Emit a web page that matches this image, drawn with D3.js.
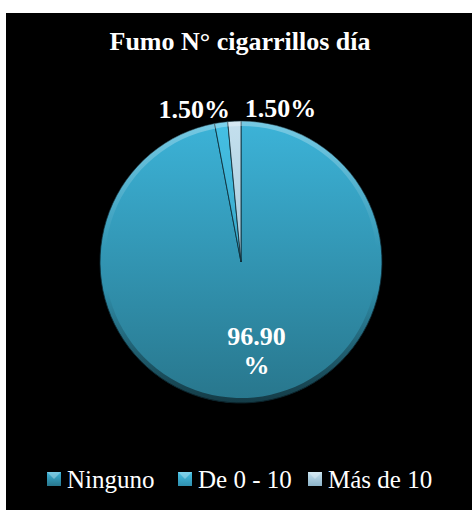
<!DOCTYPE html>
<html>
<head>
<meta charset="utf-8">
<script src="https://cdn.jsdelivr.net/npm/d3@7"></script>
<style>
  html, body { margin: 0; padding: 0; background: #ffffff; }
  svg { display: block; }
</style>
</head>
<body>
<svg id="chart" width="472" height="510"></svg>
<script>
// Smoking survey: cigarettes per day
const chartTitle = "Fumo N° cigarrillos día";
const categories = ["Ninguno", "De 0 - 10", "Más de 10"];
const shares = [96.9, 1.5, 1.5];
const valueLabels = ["96.90\n%", "1.50%", "1.50%"];

// per-slice colour stops (light top, dark bottom)
const lightColors = ["#3cb3d8", "#45c0e4", "#c4e0ee"];
const darkColors = ["#28768c", "#2f8fae", "#8cb3c8"];

const FONT = "'Liberation Serif', Tinos, 'Times New Roman', Times, 'DejaVu Serif', serif";

const W = 472, H = 510;
const svg = d3.select("#chart");

// black chart area
svg.append("rect")
  .attr("x", 6).attr("y", 13)
  .attr("width", W - 6).attr("height", H - 13)
  .attr("fill", "#000000");

const defs = svg.append("defs");
categories.forEach((c, i) => {
  const g = defs.append("linearGradient")
    .attr("id", "grad" + i)
    .attr("gradientUnits", "userSpaceOnUse")
    .attr("x1", 0).attr("y1", -141).attr("x2", 0).attr("y2", 141);
  g.append("stop").attr("offset", "0%").attr("stop-color", lightColors[i]);
  g.append("stop").attr("offset", "100%").attr("stop-color", darkColors[i]);

  const m = defs.append("linearGradient")
    .attr("id", "mgrad" + i)
    .attr("x1", 0).attr("y1", 0).attr("x2", 0).attr("y2", 1);
  m.append("stop").attr("offset", "0%").attr("stop-color", lightColors[i]);
  m.append("stop").attr("offset", "100%").attr("stop-color", darkColors[i]);
});

// rim shading: light at the top edge, dark at the bottom edge
const rim = defs.append("linearGradient")
  .attr("id", "rim")
  .attr("gradientUnits", "userSpaceOnUse")
  .attr("x1", 0).attr("y1", -141).attr("x2", 0).attr("y2", 141);
rim.append("stop").attr("offset", "0%").attr("stop-color", "#ffffff").attr("stop-opacity", 0.3);
rim.append("stop").attr("offset", "45%").attr("stop-color", "#ffffff").attr("stop-opacity", 0.0);
rim.append("stop").attr("offset", "60%").attr("stop-color", "#000000").attr("stop-opacity", 0.0);
rim.append("stop").attr("offset", "100%").attr("stop-color", "#000000").attr("stop-opacity", 0.5);

// title
svg.append("text")
  .attr("x", 240).attr("y", 50)
  .attr("text-anchor", "middle")
  .attr("font-family", FONT)
  .attr("font-size", 26)
  .attr("font-weight", "bold")
  .attr("fill", "#ffffff")
  .text(chartTitle);

const cx = 241, cy = 262, R = 141;
const g = svg.append("g").attr("transform", `translate(${cx},${cy})`);

const pie = d3.pie().sort(null).value(d => d)(shares);
const arc = d3.arc().innerRadius(0).outerRadius(R);
const rimArc = d3.arc().innerRadius(R - 5).outerRadius(R);

g.selectAll("path.slice")
  .data(pie)
  .join("path")
  .attr("class", "slice")
  .attr("d", arc)
  .attr("fill", (d, i) => `url(#grad${i})`)
  .attr("stroke", "#0c2a33")
  .attr("stroke-width", 0.8);

g.selectAll("path.rim")
  .data(pie)
  .join("path")
  .attr("class", "rim")
  .attr("d", rimArc)
  .attr("fill", "url(#rim)");

// value labels
const innerLabelArc = d3.arc().innerRadius(90).outerRadius(90);
const outerLabelArc = d3.arc().innerRadius(R + 20).outerRadius(R + 20);
const outerShift = [0, -24, 47];

pie.forEach((d, i) => {
  if (i === 0) {
    const [x, y] = innerLabelArc.centroid(d);
    const lines = valueLabels[i].split("\n");
    const t = g.append("text")
      .attr("text-anchor", "middle")
      .attr("font-family", FONT)
      .attr("font-size", 26)
      .attr("font-weight", "bold")
      .attr("fill", "#ffffff");
    lines.forEach((ln, k) => {
      t.append("tspan")
        .attr("x", x + 7)
        .attr("y", y - 7 + k * 29)
        .text(ln);
    });
  } else {
    const [x, y] = outerLabelArc.centroid(d);
    g.append("text")
      .attr("x", x + outerShift[i])
      .attr("y", y)
      .attr("dy", "0.6em")
      .attr("text-anchor", "middle")
      .attr("font-family", FONT)
      .attr("font-size", 26)
      .attr("font-weight", "bold")
      .attr("fill", "#ffffff")
      .text(valueLabels[i]);
  }
});

// legend
const legendX = [47, 178, 308];
const legend = svg.append("g");
categories.forEach((c, i) => {
  legend.append("rect")
    .attr("x", legendX[i]).attr("y", 472)
    .attr("width", 14).attr("height", 14)
    .attr("fill", `url(#mgrad${i})`);
  legend.append("path")
    .attr("d", `M${legendX[i]},472 L${legendX[i] + 7},479 L${legendX[i] + 14},472 Z`)
    .attr("fill", "#ffffff").attr("fill-opacity", 0.3);
  legend.append("text")
    .attr("x", legendX[i] + 20).attr("y", 488)
    .attr("font-family", FONT)
    .attr("font-size", 25)
    .attr("fill", "#ffffff")
    .text(c);
});
</script>
</body>
</html>
